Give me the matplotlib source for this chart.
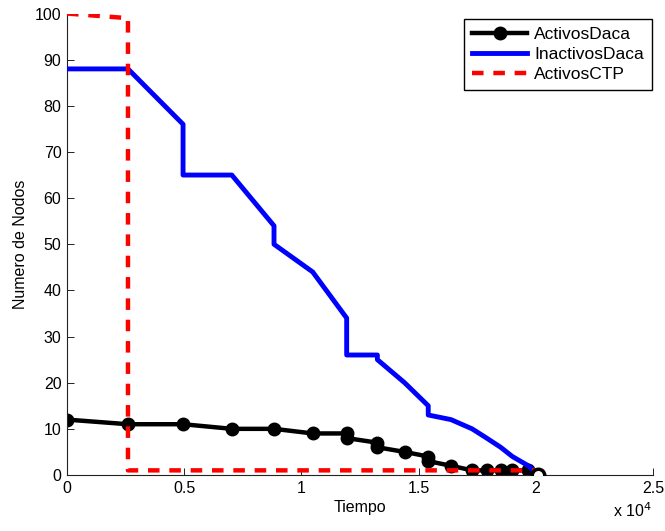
import numpy as np
import matplotlib
matplotlib.use('Agg')
import matplotlib.pyplot as plt

plt.rcParams['font.family'] = ['Liberation Sans', 'DejaVu Sans']

# ── Data ──────────────────────────────────────────────────────
t_daca      = [0, 2600, 4950, 7030, 8830, 10480, 11930, 11930, 13240, 13240,
               14400, 15410, 15410, 16380, 17280, 17900, 18500, 19000, 19680, 20100]
activos_daca = [12, 11, 11, 10, 10, 9, 9, 8, 7, 6,
                5, 4, 3, 2, 1, 1, 1, 1, 1, 0]

t_inact       = [0, 2600, 4950, 4950, 7030, 8830, 8830, 10480, 11930, 11930,
                 13240, 13240, 14400, 15410, 15410, 16380, 17280, 17900, 18500,
                 19000, 19680, 19900]
inactivos_daca = [88, 88, 76, 65, 65, 54, 50, 44, 34, 26,
                  26, 25, 20, 15, 13, 12, 10, 8, 6,
                  4, 2, 1]

t_ctp       = [0, 2600, 2600, 20000]
activos_ctp = [100, 99, 1, 1]

x_ticks = [0, 5000, 10000, 15000, 20000, 25000]
y_ticks = list(range(0, 101, 10))

# ── Figure ────────────────────────────────────────────────────
fig = plt.figure(figsize=(6.65, 5.31), dpi=100)
ax = fig.add_axes([0.1008, 0.1055, 0.8812, 0.869])

ax.plot(t_daca[:-1], activos_daca[:-1], color='black', linewidth=3.2,
        marker='o', markersize=9, markerfacecolor='black',
        label='ActivosDaca', zorder=2)
ax.plot(t_daca[-2:], activos_daca[-2:], color='black', linewidth=3.2, zorder=2)
ax.plot(t_inact, inactivos_daca, color='#0000ff', linewidth=3.5,
        label='InactivosDaca', zorder=3)
ax.plot(t_ctp, activos_ctp, color='#ff0000', linewidth=3.2,
        linestyle=(0, (2.6, 2.2)), label='ActivosCTP', zorder=4)
ax.plot(t_daca[-1:], activos_daca[-1:], linestyle='none', marker='o',
        markersize=9, markerfacecolor='white', markeredgecolor='black',
        markeredgewidth=2.5, zorder=5)

ax.set_xlim(0, 25000)
ax.set_ylim(0, 100)
ax.set_xticks(x_ticks)
ax.set_xticklabels([f'{v / 1e4:g}' for v in x_ticks])
ax.set_yticks(y_ticks)

ax.spines['top'].set_visible(False)
ax.spines['right'].set_visible(False)
for s in ('left', 'bottom'):
    ax.spines[s].set_color('#222222')
    ax.spines[s].set_linewidth(0.8)
ax.tick_params(direction='in', length=5, width=0.7, labelsize=11.5,
               colors='#222222', labelcolor='black', pad=4)

ax.set_xlabel('Tiempo', fontsize=11.5, labelpad=3)
ax.set_ylabel('Numero de Nodos', fontsize=11.5, labelpad=5)
fig.text(0.981, 0.026, r'x 10$^4$', ha='right', va='baseline', fontsize=11.5)

leg = ax.legend(loc='upper right', fontsize=12.5, handlelength=3.2,
                fancybox=False, framealpha=1, edgecolor='black',
                borderpad=0.45, labelspacing=0.3, handletextpad=0.4,
                borderaxespad=0, bbox_to_anchor=(0.998, 0.989))
leg.get_frame().set_linewidth(1.0)

fig.savefig('out.png', dpi=100)
